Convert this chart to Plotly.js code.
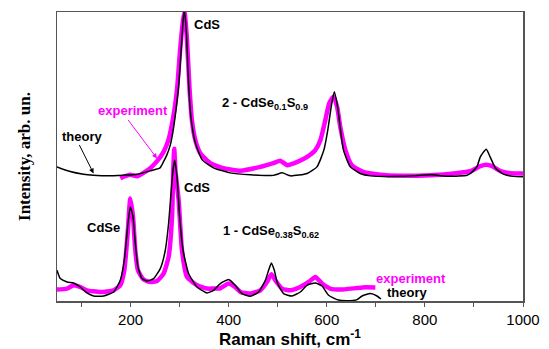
<!DOCTYPE html>
<html>
<head>
<meta charset="utf-8">
<script src="https://cdn.plot.ly/plotly-3.0.1.min.js"></script>
<style>html,body{margin:0;padding:0;background:#fff;}#chart{width:549px;height:349px;}</style>
</head>
<body>
<div id="chart"></div>
<script>
// Sample 2: CdSe0.1S0.9 (upper spectrum, offset)
var theory2X = [50, 75, 104, 124, 155, 185, 213, 240, 260, 267, 274, 281, 286, 291, 298, 303, 307, 309.5, 312, 314, 318, 323, 332, 346, 369, 403, 444, 491, 509, 526, 560, 580, 594, 602, 609, 615.3, 622, 628, 634, 648, 668, 689, 750, 814, 850, 886, 893, 906, 913, 925, 933, 944, 960, 980, 1000];
var theory2Y = [134, 129.7, 126.7, 125.7, 125, 125.7, 126.7, 130, 133, 139, 146, 156, 168, 185, 215, 250, 280, 291, 280, 266, 220, 184, 158, 141, 133, 128, 126, 125.5, 128, 125, 127.4, 134, 150.7, 170.7, 194, 209, 194, 170.7, 150.7, 134, 127.4, 125, 124.5, 126, 124.5, 125.7, 127.4, 134, 144, 151.7, 144, 132.7, 126.7, 124.5, 124];
var exp2X = [179, 189, 199, 214, 240, 254, 267, 277, 287, 294.6, 301, 307, 310, 315, 320, 325, 332, 342, 362.5, 389, 424, 464.5, 491, 505, 519.5, 540, 560, 576.6, 587, 597, 605, 613.6, 621, 627.6, 638, 651, 674.5, 709, 750, 811, 864, 893, 913, 925, 937, 954, 974, 1000];
var exp2Y = [122.7, 124.7, 126.2, 124.7, 132.7, 139.7, 148.7, 160.7, 183.7, 210.7, 250.7, 280.7, 288.7, 260.7, 213.7, 180.7, 160.7, 147.7, 137.7, 132.7, 130.2, 134, 137.7, 140, 135.7, 139, 144, 150.7, 160.7, 180.7, 197.7, 204, 194, 173.7, 150.7, 135.7, 129, 126.2, 125.2, 125.7, 127.7, 129.7, 134.7, 136.2, 134.7, 129.7, 127.7, 127.4];

// Sample 1: CdSe0.38S0.62 (lower spectrum)
var theory1X = [50, 56.7, 70.4, 84, 97.5, 111, 124.6, 145, 165.4, 179, 187.2, 194, 199.4, 205, 209.6, 215, 223.3, 233.5, 247, 260.6, 270.8, 277.5, 282.4, 286.5, 289.8, 294.6, 300, 306.9, 318.3, 335.4, 355.8, 369.3, 383, 400, 413.5, 427, 444, 461, 474.7, 481.4, 487, 493, 499.7, 512, 529, 546, 559.7, 576.6, 590.3, 603.7, 620.8, 641, 661.6, 672, 688.8, 702.4, 710.5];
var theory1Y = [30.7, 22.4, 19, 18, 14, 8, 5, 5, 9, 20.7, 40.7, 74, 94, 84, 57.7, 34, 22.4, 20, 22.4, 32.4, 50.7, 77.4, 107.4, 130.7, 140.7, 124, 84, 50.7, 27.4, 14, 8, 10.7, 17.4, 21.4, 15.7, 7.4, 4.7, 9, 20.7, 30.7, 38, 30.7, 17.4, 7.4, 5, 9, 15.7, 18, 15, 5.7, 1.4, 0.3, 1.4, 5, 7.4, 5, 2];
var exp1X = [50, 70.4, 84, 97.5, 111, 138, 165.4, 179, 187.2, 194, 199.4, 205, 209.6, 215, 226.5, 240.2, 253.9, 267.3, 277.5, 284.5, 287, 289, 291.5, 298, 304.8, 315, 335.4, 355.8, 369, 383, 400, 413.5, 424, 444, 464.5, 478, 487, 495, 508.7, 525.6, 546, 563, 576.6, 590.3, 607, 627.6, 661.6, 678.5, 699];
var exp1Y = [11.4, 12.4, 15.7, 14, 10.7, 9, 10.7, 15.7, 30.7, 67.4, 102.4, 84, 50.7, 30.7, 21.4, 19, 20, 27.4, 44, 84, 130, 152, 130, 100.7, 50.7, 24, 15.7, 12.4, 12.4, 12.7, 17.4, 13.7, 9, 7.4, 10.7, 19, 26.7, 20.7, 12.4, 10.7, 14, 19, 24, 17.4, 12.4, 11.4, 13, 13.7, 13.5];

var xTickVals = [200, 400, 600, 800, 1000];
var xTickText = ['200', '400', '600', '800', '1000'];

var MAG = '#ff00ff';
var BOLD = 'Liberation Sans, Arial, sans-serif';

var traces = [
  {x: exp1X, y: exp1Y, mode: 'lines', line: {color: MAG, width: 4.5, shape: 'spline', smoothing: 0.5}, name: 'experiment 1', hoverinfo: 'skip'},
  {x: exp2X, y: exp2Y, mode: 'lines', line: {color: MAG, width: 4.5, shape: 'spline', smoothing: 0.5}, name: 'experiment 2', hoverinfo: 'skip'},
  {x: theory1X, y: theory1Y, mode: 'lines', line: {color: '#000', width: 1.5, shape: 'spline', smoothing: 0.5}, name: 'theory 1', hoverinfo: 'skip'},
  {x: theory2X, y: theory2Y, mode: 'lines', line: {color: '#000', width: 1.5, shape: 'spline', smoothing: 0.5}, name: 'theory 2', hoverinfo: 'skip'}
];

function lab(text, x, y, color, xanchor) {
  return {text: '<b>' + text + '</b>', x: x, y: y, xref: 'x', yref: 'y', showarrow: false,
          xanchor: xanchor || 'left', yanchor: 'middle',
          font: {family: BOLD, size: 13, color: color || '#000'}};
}

var annotations = [
  lab('CdS', 325, 276),
  lab('2 - CdSe<sub>0.1</sub>S<sub>0.9</sub>', 382, 197),
  lab('experiment', 204.5, 190.7, MAG, 'center'),
  lab('theory', 101, 164, '#000', 'center'),
  lab('CdS', 304.8, 113),
  lab('CdSe', 144, 73.5, '#000', 'center'),
  lab('1 - CdSe<sub>0.38</sub>S<sub>0.62</sub>', 385, 69),
  lab('experiment', 695.5, 22.4, MAG),
  lab('theory', 719, 8.5),
  {text: '', x: 253.9, y: 142.4, ax: 192.7, ay: 182.4, xref: 'x', yref: 'y', axref: 'x', ayref: 'y',
   showarrow: true, arrowhead: 2, arrowsize: 1, arrowwidth: 1, arrowcolor: MAG},
  {text: '', x: 124.6, y: 127.4, ax: 94, ay: 157.4, xref: 'x', yref: 'y', axref: 'x', ayref: 'y',
   showarrow: true, arrowhead: 2, arrowsize: 1, arrowwidth: 1, arrowcolor: '#000'}
];

var layout = {
  width: 549, height: 349,
  margin: {l: 57, r: 26, t: 12, b: 48},
  paper_bgcolor: '#fff', plot_bgcolor: '#fff',
  showlegend: false,
  xaxis: {
    range: [50, 1000], showgrid: false, zeroline: false,
    showline: true, mirror: true, linecolor: '#555', linewidth: 1.5,
    tickmode: 'array', tickvals: xTickVals, ticktext: xTickText,
    ticks: 'outside', ticklen: 4, tickwidth: 1, tickcolor: '#555',
    minor: {dtick: 100, tick0: 0, ticks: 'outside', ticklen: 4, tickwidth: 1, tickcolor: '#555'},
    tickfont: {family: BOLD, size: 15, color: '#000'},
    title: {text: '<b>Raman shift, cm<sup>-1</sup></b>', font: {family: BOLD, size: 17, color: '#000'}, standoff: 4}
  },
  yaxis: {
    range: [0, 288.7], showgrid: false, zeroline: false,
    showline: true, mirror: true, linecolor: '#555', linewidth: 1.5,
    showticklabels: false, ticks: '',
    title: {text: '<b>Intensity, arb. un.</b>', font: {family: 'Liberation Serif, Times New Roman, serif', size: 17, color: '#000'}, standoff: 20}
  },
  annotations: annotations
};

Plotly.newPlot('chart', traces, layout, {staticPlot: true, displayModeBar: false});
</script>
</body>
</html>
